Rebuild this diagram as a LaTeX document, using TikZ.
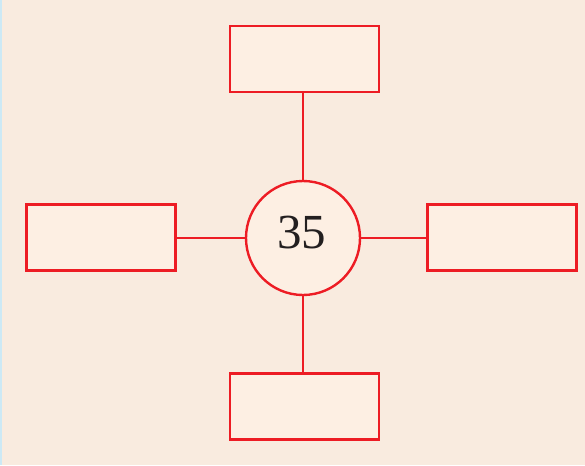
\documentclass[tikz,border=0pt]{standalone}
\usepackage{fontspec}
\newfontfamily\numfont{Liberation Serif}
\definecolor{bg}{HTML}{F9EBDF}
\definecolor{boxfill}{HTML}{FDEFE3}
\definecolor{myred}{HTML}{ED1C24}
\definecolor{edge}{HTML}{CDE9F5}
\definecolor{txt}{HTML}{231F20}
\begin{document}
\begin{tikzpicture}[x=1pt,y=-1pt,
  blank/.style={draw=myred,fill=boxfill,line width=2.4pt,minimum width=149pt,minimum height=66pt,inner sep=0pt},
  hub/.style={draw=myred,fill=boxfill,line width=2.4pt,circle,minimum size=114pt,inner sep=0pt},
  link/.style={draw=myred,line width=2.4pt}]
\useasboundingbox (0,0) rectangle (585,465);
\fill[bg] (0,0) rectangle (585,465);
\fill[edge] (0,0) rectangle (2,465);
\node[hub] (c) at (303,238) {};
\node[text=txt,font=\numfont\fontsize{49}{49}\selectfont] (n) at (301.5,233) {35};
\node[blank] (t) at (304.5,59) {};
\node[blank] (l) at (101,237.5) {};
\node[blank] (r) at (502,237.5) {};
\node[blank] (b) at (304.5,406.5) {};
\draw[link] (c.north) -- (c.north |- t.south);
\draw[link] (c.south) -- (c.south |- b.north);
\draw[link] (c.west) -- (c.west -| l.east);
\draw[link] (c.east) -- (c.east -| r.west);
\end{tikzpicture}
\end{document}
